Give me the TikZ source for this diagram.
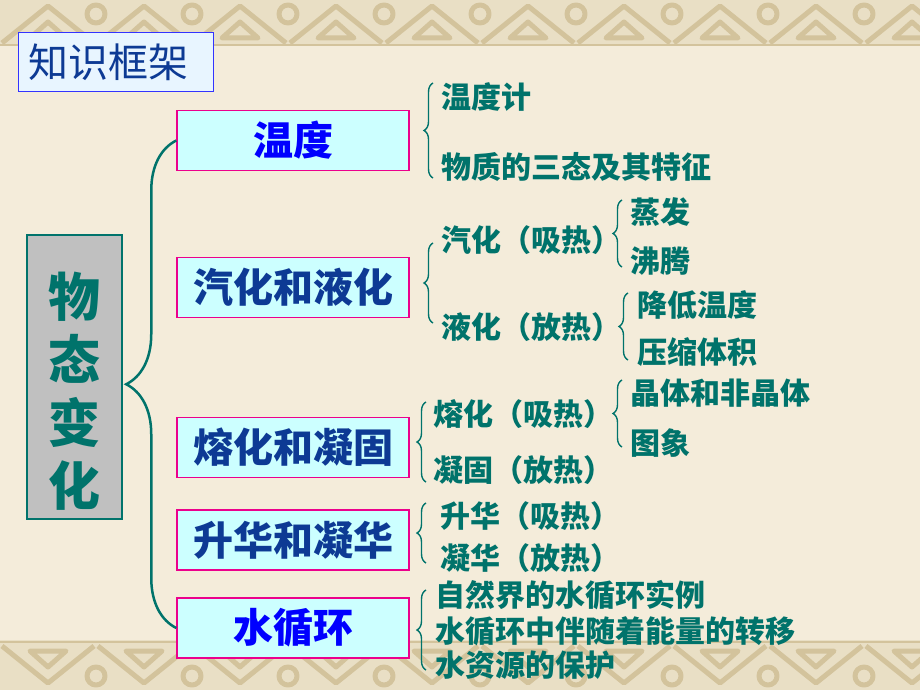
\documentclass[tikz,border=0pt]{standalone}
\usepackage{fontspec}
\newfontfamily\cjk{Noto Sans CJK SC}
\usepackage{tikz}
\usetikzlibrary{positioning}
\usetikzlibrary{decorations.pathreplacing}

\definecolor{bgcream}{HTML}{F4ECDA}
\definecolor{bandtan}{HTML}{E9DFC5}
\definecolor{knot}{HTML}{D3C39C}
\definecolor{tealtxt}{HTML}{00736B}
\definecolor{catfill}{HTML}{CCFFFF}
\definecolor{navytxt}{HTML}{0D3A94}
\definecolor{titlefill}{HTML}{E8F5FF}
\definecolor{greyfill}{HTML}{C0C0C0}

\begin{document}
\begin{tikzpicture}[x=1pt, y=-1pt,
    catbox/.style={rectangle, draw=magenta, line width=1.5pt, fill=catfill, minimum width=232pt, minimum height=60pt, inner sep=0pt, font=\cjk\bfseries\fontsize{40}{44}\selectfont},
    item/.style={anchor=west, inner sep=0pt, text=tealtxt, font=\cjk\bfseries\fontsize{30}{32}\selectfont},
    bigbrace/.style={decorate, decoration={brace, amplitude=50pt}, draw=tealtxt, line width=2.5pt},
    smallbrace/.style={decorate, decoration={brace, amplitude=9pt}, draw=tealtxt, line width=1.4pt},
    knotline/.style={draw=knot, line width=5pt, line join=round}]
    \useasboundingbox (0,0) rectangle (920,690);
    \fill[bgcream] (0,0) rectangle (920,690);

    % decorative bands
    \fill[bandtan] (0,0) rectangle (920,46);
    \fill[bandtan] (0,640) rectangle (920,690);
    \foreach \i in {0,...,9}
    {
        \draw[knotline] (\i*96+2,43) -- (\i*96+48,6) -- (\i*96+94,43);
        \draw[knotline] (\i*96+30,38) -- (\i*96+48,22) -- (\i*96+66,38) -- cycle;
        \draw[knotline] (\i*96+96,14) circle (9);
        \draw[knotline] (\i*96+2,646) -- (\i*96+48,683) -- (\i*96+94,646);
        \draw[knotline] (\i*96+30,651) -- (\i*96+48,667) -- (\i*96+66,651) -- cycle;
        \draw[knotline] (\i*96+96,676) circle (9);
    }
    \draw[knot, line width=2pt] (0,45) -- (920,45);
    \draw[knot, line width=2pt] (0,642) -- (920,642);

    % title and main box
    \node[rectangle, draw=blue!80, line width=1pt, fill=titlefill, text width=175pt, inner xsep=10pt, minimum height=59pt, align=left, text=navytxt, font=\cjk\fontsize{40}{44}\selectfont] (kuangjia) at (115.5,62.5) {知识框架};
    \node[rectangle, draw=tealtxt, line width=1.5pt, fill=greyfill, minimum width=95pt, minimum height=284pt] (wutai) at (74.5,377) {};
    \node[text=tealtxt, font=\cjk\bfseries\fontsize{52}{63}\selectfont, align=center, inner sep=0pt] (wutaitxt) at (74.5,391) {物\\态\\变\\化};

    % categories
    \node[catbox, text=blue] (wendu) at (293,140.5) {温度};
    \node[catbox, text=navytxt] (qihua) at (293,287.5) {汽化和液化};
    \node[catbox, text=navytxt] (ronghua) at (293,447.5) {熔化和凝固};
    \node[catbox, text=navytxt] (shenghua) at (293,540) {升华和凝华};
    \node[catbox, text=blue] (shuixh) at (293,628) {水循环};
    \draw[bigbrace] (shuixh.west) -- (wendu.west);

    % temperature
    \node[item] (wdj) at (441,97) {温度计};
    \node[item] (santai) at (441,167) {物质的三态及其特征};
    \draw[smallbrace] (433,178) -- (433,83);

    % vaporization and liquefaction
    \node[item] (qhx) at (441,240) {汽化（吸热）};
    \node[item] (yhf) at (441,327) {液化（放热）};
    \draw[smallbrace] (433,323) -- (433,243);
    \node[item] (zhengfa) at (630,212) {蒸发};
    \node[item] (feiteng) at (630,261) {沸腾};
    \draw[smallbrace] (622,267) -- (622,200);
    \node[item] (jiangdi) at (637,305) {降低温度};
    \node[item] (yasuo) at (637,352) {压缩体积};
    \draw[smallbrace] (628,360) -- (628,293);

    % melting and solidification
    \node[item] (rhx) at (433,414) {熔化（吸热）};
    \node[item] (ngf) at (433,470) {凝固（放热）};
    \draw[smallbrace] (426,482) -- (426,402);
    \node[item] (jingti) at (630,393) {晶体和非晶体};
    \node[item] (tuxiang) at (630,443) {图象};
    \draw[smallbrace] (622,447) -- (622,380);

    % sublimation
    \node[item] (shx) at (440,516) {升华（吸热）};
    \node[item] (nhf) at (440,558) {凝华（放热）};
    \draw[smallbrace] (426,563) -- (426,503);

    % water cycle
    \node[item] (shili) at (435,595) {自然界的水循环实例};
    \node[item] (nengliang) at (435,631) {水循环中伴随着能量的转移};
    \node[item] (baohu) at (435,665) {水资源的保护};
    \draw[smallbrace] (426,670) -- (426,590);
\end{tikzpicture}
\end{document}
